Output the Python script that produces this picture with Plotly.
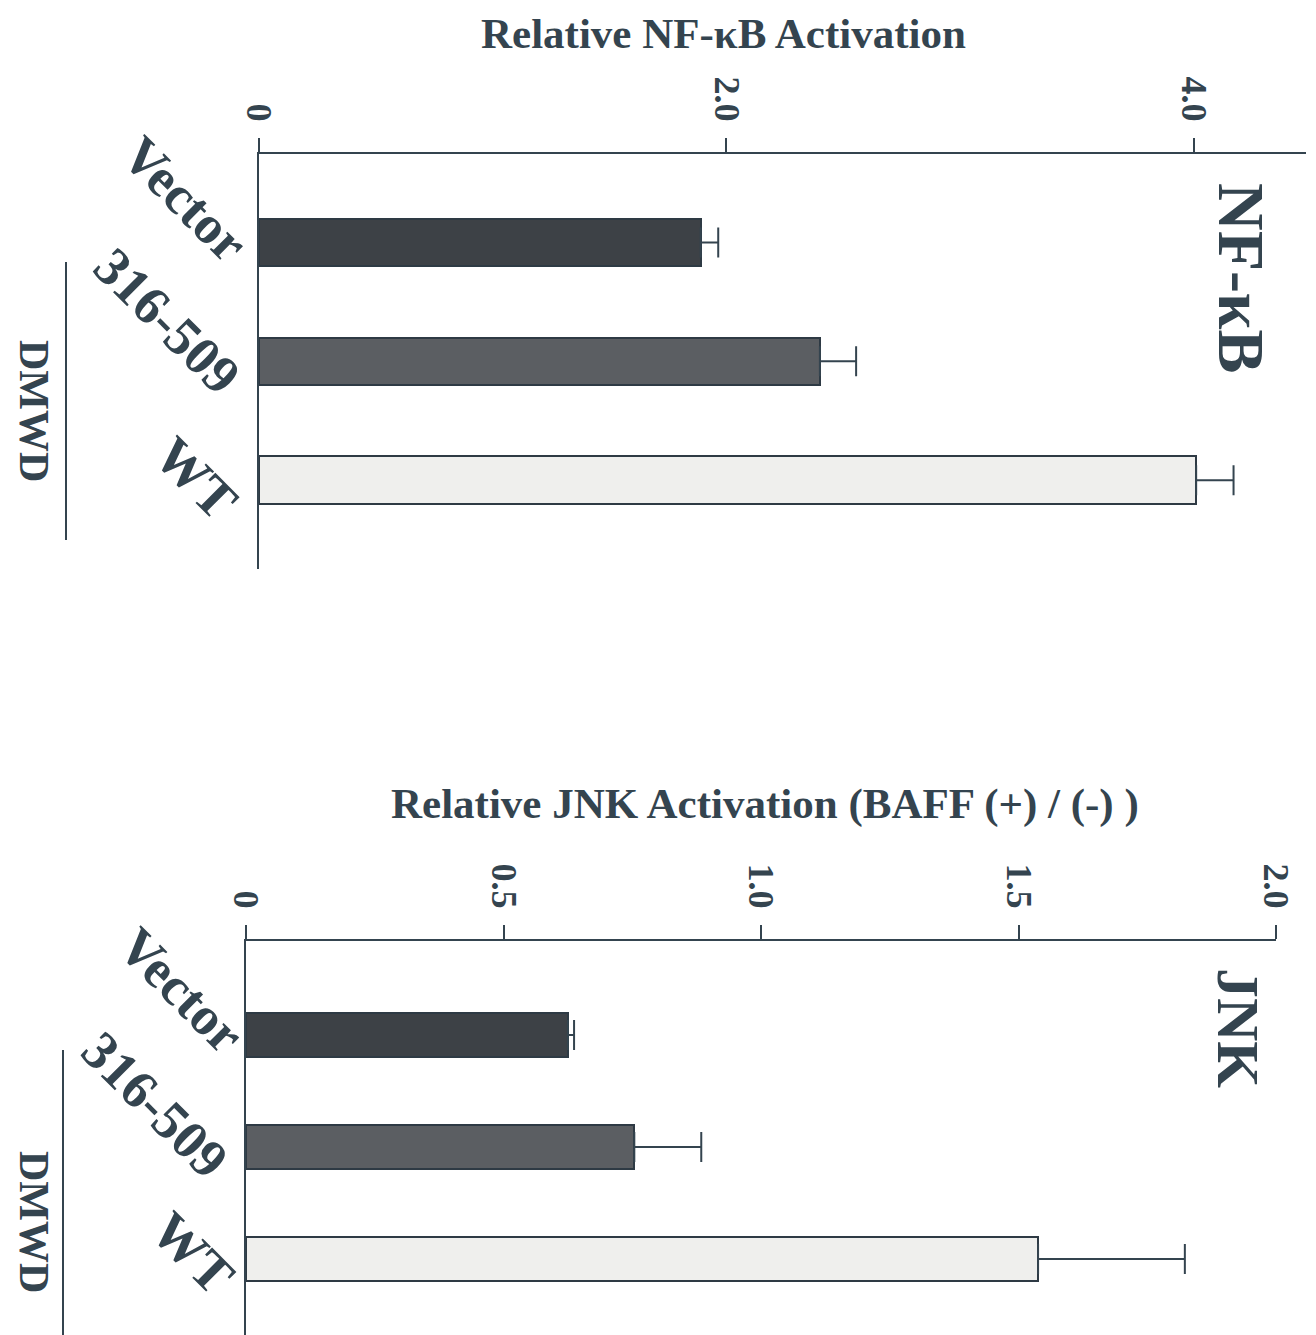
import plotly.graph_objects as go

# ---------------- data ----------------
categories = ["Vector", "316-509", "WT"]

nfkb_values = [1.89, 2.40, 4.01]
nfkb_errors = [0.075, 0.155, 0.16]
nfkb_ticks = [0, 2.0, 4.0]
nfkb_ticktext = ["0", "2.0", "4.0"]

jnk_values = [0.625, 0.754, 1.538]
jnk_errors = [0.012, 0.13, 0.285]
jnk_ticks = [0, 0.5, 1.0, 1.5, 2.0]
jnk_ticktext = ["0", "0.5", "1.0", "1.5", "2.0"]

bar_colors = ["#3d4146", "#5b5e62", "#efefed"]

# ---------------- style ----------------
OFF = 8  # page body margin
W, H = 1316 - OFF, 1335 - OFF
INK = "#34444f"
FONT = "Liberation Serif"

fig = go.Figure()

for vals, errs, xa, ya in [(nfkb_values, nfkb_errors, "x", "y"),
                           (jnk_values, jnk_errors, "x2", "y2")]:
    fig.add_trace(go.Bar(
        x=vals, y=categories, orientation="h",
        marker=dict(color=bar_colors, line=dict(color="#2e3a44", width=2)),
        width=0.4,
        error_x=dict(type="data", array=errs, symmetric=False,
                     arrayminus=[0] * len(errs), color=INK,
                     thickness=2, width=15),
        xaxis=xa, yaxis=ya, showlegend=False,
    ))

def px_x(p):
    return (p - OFF) / W

def px_y(p):
    return 1 - (p - OFF) / H

tickfont = dict(family=FONT, size=36, color=INK, weight="bold")
common_x = dict(side="top", showline=True, linecolor=INK, linewidth=2,
                ticks="outside", ticklen=14, tickwidth=2, tickcolor=INK,
                tickangle=90, showgrid=False, zeroline=False, automargin=False,
                tickfont=tickfont, ticklabelstandoff=4)
common_y = dict(showline=True, linecolor=INK, linewidth=2, ticks="",
                showticklabels=False, showgrid=False, zeroline=False,
                automargin=False,
                type="category", categoryarray=categories)

fig.update_layout(
    template="none",
    width=W, height=H, margin=dict(l=0, r=0, t=0, b=0, pad=0, autoexpand=False),
    paper_bgcolor="white", plot_bgcolor="white",
    bargap=0,
    xaxis=dict(domain=[px_x(259), px_x(1306)], range=[0, 4.48],
               tickvals=nfkb_ticks, ticktext=nfkb_ticktext,
               anchor="y", **common_x),
    yaxis=dict(domain=[px_y(569), px_y(154)], range=[2.748, -0.745],
               anchor="x", **common_y),
    xaxis2=dict(domain=[px_x(246), px_x(1276)], range=[0, 2.0],
                tickvals=jnk_ticks, ticktext=jnk_ticktext,
                anchor="y2", **common_x),
    yaxis2=dict(domain=[0, px_y(941)], range=[2.68, -0.84],
                anchor="x2", **common_y),
)

def text_ann(text, x, y, size, angle=0):
    return dict(text=text, x=px_x(x), y=px_y(y), xref="paper", yref="paper",
                xanchor="center", yanchor="middle", showarrow=False,
                textangle=angle,
                font=dict(family=FONT, size=size, color=INK, weight="bold"))

ann = [
    text_ann("Relative NF-\u03baB Activation", 723, 33, 43),
    text_ann("Relative JNK Activation (BAFF (+) / (-) )", 765, 804, 43),
    text_ann("NF-\u03baB", 1242, 278, 66, 90),
    text_ann("JNK", 1238, 1028, 60, 90),
    text_ann("DMWD", 34, 411, 42, 90),
    text_ann("DMWD", 34, 1222, 42, 90),
]

# category labels (rotated 45 deg)
label_x_top = [185, 167, 196]
label_dy_top = [-44, -40, -2]
label_x_bot = [181, 155, 193]
label_dy_bot = [-45, -42, -6]
for yref, lx, ldy in [("y", label_x_top, label_dy_top), ("y2", label_x_bot, label_dy_bot)]:
    for cat, xx, dy in zip(categories, lx, ldy):
        ann.append(dict(text=cat, x=px_x(xx), y=cat, xref="paper", yref=yref,
                        yshift=-dy, showarrow=False, textangle=45,
                        xanchor="center", yanchor="middle",
                        font=dict(family=FONT, size=54, color=INK, weight="bold")))

fig.update_layout(annotations=ann)

# bracket lines beside DMWD
fig.add_shape(type="line", xref="paper", yref="paper",
              x0=px_x(66), x1=px_x(66), y0=px_y(262), y1=px_y(540),
              line=dict(color=INK, width=2))
fig.add_shape(type="line", xref="paper", yref="paper",
              x0=px_x(63), x1=px_x(63), y0=px_y(1050), y1=px_y(1335),
              line=dict(color=INK, width=2))

fig.write_html("out.html")
